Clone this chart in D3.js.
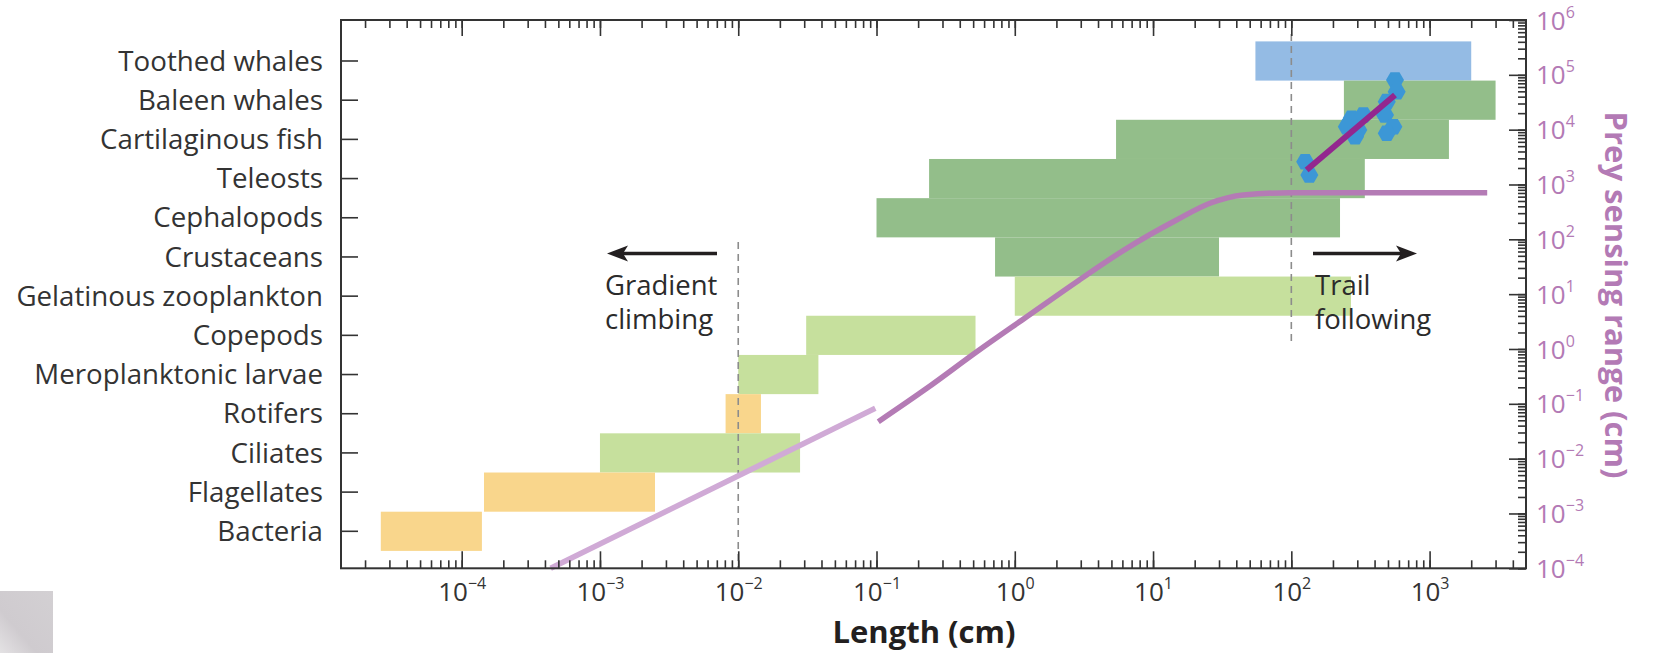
<!DOCTYPE html>
<html>
<head>
<meta charset="utf-8">
<script src="https://cdn.jsdelivr.net/npm/d3@7"></script>
<style>
  body { margin: 0; background: #fff; }
  svg { display: block; font-family: "Open Sans", sans-serif; }
</style>
</head>
<body>
<svg width="1655" height="653"></svg>
<script>
// categories, top to bottom, with body-length ranges (cm)
const categories = ['Toothed whales', 'Baleen whales', 'Cartilaginous fish', 'Teleosts',
  'Cephalopods', 'Crustaceans', 'Gelatinous zooplankton', 'Copepods',
  'Meroplanktonic larvae', 'Rotifers', 'Ciliates', 'Flagellates', 'Bacteria'];
const lengthMin = [55, 240, 5.4, 0.24, 0.1, 0.72, 1, 0.031, 0.01, 0.0081, 0.001, 0.000145, 0.000026];
const lengthMax = [2000, 3000, 1380, 340, 225, 30, 270, 0.52, 0.038, 0.0146, 0.028, 0.0025, 0.00014];
const groupOf = ['blue', 'dark', 'dark', 'dark', 'dark', 'dark', 'light', 'light', 'light',
  'orange', 'light', 'orange', 'orange'];

// prey sensing range model curve: [length cm, range cm]
const curveLow = [[0.00044, 0.0001], [0.098, 0.083]];
const curveHigh = [[0.103, 0.0472], [0.231, 0.192], [0.531, 0.891], [1.22, 3.88], [2.81, 16.9],
  [6.46, 68.5], [14.8, 225], [25.8, 454], [45, 643], [98, 708], [400, 710], [2610, 710]];

// observed whales (length cm, range cm) and fitted line
const obsLength = [126, 135, 273, 252, 305, 289, 332, 490, 476, 547, 490, 562, 578];
const obsRange = [2600, 1490, 16100, 11300, 9860, 7450, 18500, 32400, 18500, 11300, 8590, 80500, 49200];
const fitLine = [[129, 1840], [562, 42800]];

const xTicksMajor = [1e-4, 1e-3, 1e-2, 1e-1, 1, 10, 100, 1000];
const yTicksMajor = [1e-4, 1e-3, 1e-2, 1e-1, 1, 10, 100, 1e3, 1e4, 1e5, 1e6];

const colors = { blue: '#94bbe4', dark: '#93be8a', light: '#c6e09d', orange: '#f9d68c' };

const svg = d3.select('svg');
const pLeft = 341, pRight = 1526, pTop = 20, pBottom = 568.3;

const x = d3.scaleLog().domain([1.34e-5, 4980]).range([pLeft, pRight]);
const yR = d3.scaleLog().domain([1e-4, 1e6]).range([pBottom, pTop]);
const yB = d3.scaleBand().domain(categories).range([41.4, 550.9]).padding(0);

// minor ticks 1..9 per decade
function minorTicks(scale) {
  const [a, b] = scale.domain();
  const out = [];
  for (let e = Math.floor(Math.log10(a)); e <= Math.ceil(Math.log10(b)); e++) {
    for (let k = 1; k < 10; k++) {
      const v = k * Math.pow(10, e);
      if (v >= a * 0.999 && v <= b * 1.001) out.push(v);
    }
  }
  return out;
}

function supLabel(sel, shift) {
  sel.each(function(d) {
    const e = Math.round(Math.log10(d));
    const t = d3.select(this);
    t.text('10');
    t.append('tspan').attr('dy', shift).attr('font-size', 16).text(e < 0 ? '\u2212' + (-e) : e);
  });
}

// grey patch bottom left of the scan
const grad = svg.append('defs').append('linearGradient').attr('id', 'patch')
  .attr('x1', 0).attr('y1', 1).attr('x2', 1).attr('y2', 0);
grad.append('stop').attr('offset', 0).attr('stop-color', '#e4e2e4');
grad.append('stop').attr('offset', 0.35).attr('stop-color', '#cfcbcf');
grad.append('stop').attr('offset', 1).attr('stop-color', '#d3d0d3');
svg.append('rect').attr('x', 0).attr('y', 591).attr('width', 53).attr('height', 62).attr('fill', 'url(#patch)');

// bars
svg.append('g').selectAll('rect')
  .data(categories)
  .join('rect')
    .attr('x', (d, i) => x(lengthMin[i]))
    .attr('width', (d, i) => x(lengthMax[i]) - x(lengthMin[i]))
    .attr('y', d => yB(d))
    .attr('height', yB.bandwidth())
    .attr('fill', (d, i) => colors[groupOf[i]]);

// dashed thresholds
svg.append('line')
  .attr('x1', x(0.01)).attr('x2', x(0.01)).attr('y1', 242).attr('y2', pBottom)
  .attr('stroke', '#8c8c8c').attr('stroke-width', 1.6).attr('stroke-dasharray', '7,5');
svg.append('line')
  .attr('x1', x(100)).attr('x2', x(100)).attr('y1', 34).attr('y2', 345)
  .attr('stroke', '#8c8c8c').attr('stroke-width', 1.6).attr('stroke-dasharray', '7,5');

// model curve
const line = d3.line().x(d => x(d[0])).y(d => yR(d[1])).curve(d3.curveMonotoneX);
svg.append('path').attr('d', line(curveLow))
  .attr('fill', 'none').attr('stroke', '#d0aad6').attr('stroke-width', 5.5);
svg.append('path').attr('d', line(curveHigh))
  .attr('fill', 'none').attr('stroke', '#b47bb5').attr('stroke-width', 5.5);

// whale observations as hexagons
const hex = r => {
  const p = d3.path();
  for (let k = 0; k < 6; k++) {
    const a = Math.PI / 3 * k;
    if (k === 0) p.moveTo(r, 0); else p.lineTo(r * Math.cos(a), r * Math.sin(a));
  }
  p.closePath();
  return p.toString();
};
svg.append('g').selectAll('path')
  .data(obsLength)
  .join('path')
    .attr('d', hex(9))
    .attr('transform', (d, i) => `translate(${x(d)},${yR(obsRange[i])})`)
    .attr('fill', '#3c97d6');

svg.append('path').attr('d', d3.line().x(d => x(d[0])).y(d => yR(d[1]))(fitLine))
  .attr('stroke', '#93278f').attr('stroke-width', 6).attr('fill', 'none');

// arrows + text
function arrow(x1, x2, y) {
  const dir = Math.sign(x2 - x1);
  svg.append('line').attr('x1', x1).attr('x2', x2 - dir * 12).attr('y1', y).attr('y2', y)
    .attr('stroke', '#231f20').attr('stroke-width', 3.5);
  svg.append('path')
    .attr('d', `M${x2},${y} L${x2 - dir * 21},${y - 8} L${x2 - dir * 16},${y} L${x2 - dir * 21},${y + 8} Z`)
    .attr('fill', '#231f20');
}
arrow(717, 607, 253.5);
arrow(1313, 1417, 253.5);

const notes = svg.append('g').attr('font-size', 27.5).attr('fill', '#2b2b2b');
notes.append('text').attr('x', 605).attr('y', 295).text('Gradient');
notes.append('text').attr('x', 605).attr('y', 329).text('climbing');
notes.append('text').attr('x', 1315).attr('y', 295).text('Trail');
notes.append('text').attr('x', 1315).attr('y', 329).text('following');

// axes
const axisStyle = g => {
  g.select('.domain').remove();
  g.selectAll('.tick line').attr('stroke', '#333').attr('stroke-width', 1.6);
};

svg.append('g').attr('transform', `translate(0,${pTop})`)
  .call(d3.axisBottom(x).tickValues(minorTicks(x)).tickSize(8).tickFormat(''))
  .call(axisStyle);
svg.append('g').attr('transform', `translate(0,${pTop})`)
  .call(d3.axisBottom(x).tickValues(xTicksMajor).tickSize(16).tickFormat(''))
  .call(axisStyle);

svg.append('g').attr('transform', `translate(0,${pBottom})`)
  .call(d3.axisBottom(x).tickValues(minorTicks(x)).tickSize(-8).tickFormat(''))
  .call(axisStyle);
svg.append('g').attr('transform', `translate(0,${pBottom})`)
  .call(d3.axisBottom(x).tickValues(xTicksMajor).tickSize(-17).tickPadding(14))
  .call(axisStyle)
  .call(g => g.selectAll('text').attr('font-size', 26).attr('fill', '#333')
    .attr('font-family', '"Open Sans", sans-serif').call(supLabel, -12));

svg.append('g').attr('transform', `translate(${pLeft},0)`)
  .call(d3.axisLeft(yB).tickSize(-17).tickPadding(18))
  .call(axisStyle)
  .call(g => g.selectAll('text').attr('font-size', 27.7).attr('fill', '#333')
    .attr('dy', '0.35em').attr('font-family', '"Open Sans", sans-serif'));

svg.append('g').attr('transform', `translate(${pRight},0)`)
  .call(d3.axisRight(yR).tickValues(minorTicks(yR)).tickSize(-8).tickFormat(''))
  .call(axisStyle);
svg.append('g').attr('transform', `translate(${pRight},0)`)
  .call(d3.axisRight(yR).tickValues(yTicksMajor).tickSize(-17).tickPadding(10))
  .call(axisStyle)
  .call(g => g.selectAll('text').attr('font-size', 26).attr('fill', '#b37ab5')
    .attr('dy', '0.35em').attr('font-family', '"Open Sans", sans-serif').call(supLabel, -12));

// frame
svg.append('rect').attr('x', pLeft).attr('y', pTop)
  .attr('width', pRight - pLeft).attr('height', pBottom - pTop)
  .attr('fill', 'none').attr('stroke', '#333').attr('stroke-width', 2);

// axis titles
svg.append('text').attr('x', 924).attr('y', 643).attr('text-anchor', 'middle')
  .attr('font-size', 31).attr('font-weight', 'bold').attr('fill', '#231f20')
  .text('Length (cm)');
svg.append('text').attr('transform', 'translate(1605,295) rotate(90)').attr('text-anchor', 'middle')
  .attr('font-size', 31).attr('font-weight', 'bold').attr('fill', '#b37ab5')
  .text('Prey sensing range (cm)');
</script>
</body>
</html>
